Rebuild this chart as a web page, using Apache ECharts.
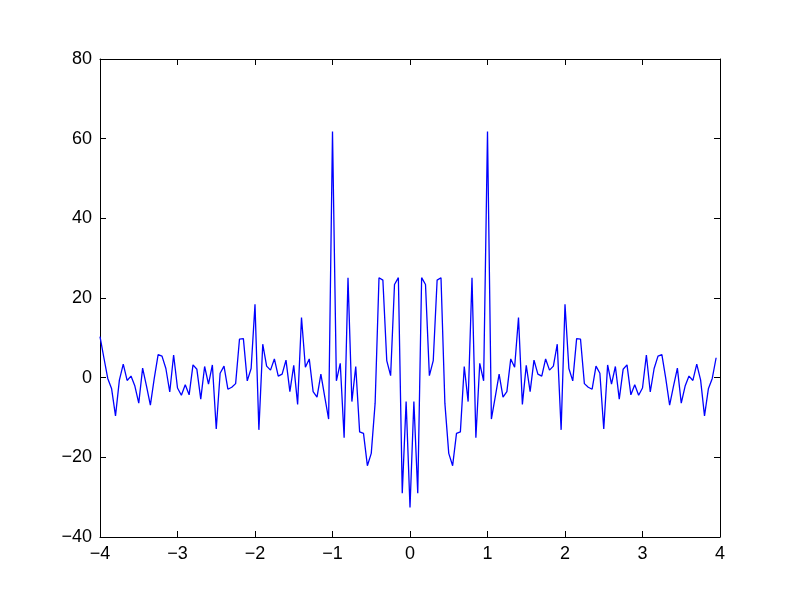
<!DOCTYPE html>
<html>
<head>
<meta charset="utf-8">
<script src="https://cdn.jsdelivr.net/npm/echarts@6/dist/echarts.min.js"></script>
<style>
  html, body { margin: 0; padding: 0; background: #ffffff; }
  #chart { width: 800px; height: 597px; }
</style>
</head>
<body>
<div id="chart"></div>
<script>
// Sampling grid of the x axis
const xStart = -4;
const xStep = 0.05;

// Series values, x = -4 ... 3.95 (step 0.05)
const yValues = [
  10.3, 5.0, -0.2, -2.8, -9.6, -0.6, 3.4, -0.7, 0.4, -2.1,
  -6.4, 2.4, -2.1, -6.9, -0.2, 5.8, 5.4, 2.3, -3.6, 5.7,
  -2.6, -4.4, -1.8, -4.3, 3.2, 2.1, -5.4, 2.8, -1.6, 3.2,
  -12.9, 1.1, 2.9, -2.9, -2.4, -1.5, 9.7, 9.8, -0.8, 2.3,
  18.4, -13.1, 8.4, 2.9, 1.9, 4.7, 0.4, 0.9, 4.4, -3.5,
  3.1, -6.7, 15.1, 2.6, 4.7, -3.5, -4.9, 0.9, -4.8, -10.4,
  61.8, -0.8, 3.6, -15.1, 25.1, -6.0, 2.8, -13.6, -14.0, -22.1,
  -19.0, -6.4, 25.1, 24.5, 4.3, 0.5, 23.4, 25.1, -29.0, -6.0,
  -32.6, -6.0, -29.0, 25.1, 23.4, 0.5, 4.3, 24.5, 25.1, -6.4,
  -19.0, -22.1, -14.0, -13.6, 2.8, -6.0, 25.1, -15.1, 3.6, -0.8,
  61.8, -10.4, -4.8, 0.9, -4.9, -3.5, 4.7, 2.6, 15.1, -6.7,
  3.1, -3.5, 4.4, 0.9, 0.4, 4.7, 1.9, 2.9, 8.4, -13.1,
  18.4, 2.3, -0.8, 9.8, 9.7, -1.5, -2.4, -2.9, 2.9, 1.1,
  -12.9, 3.2, -1.6, 2.8, -5.4, 2.1, 3.2, -4.3, -1.8, -4.4,
  -2.6, 5.7, -3.6, 2.3, 5.4, 5.8, -0.2, -6.9, -2.1, 2.4,
  -6.4, -2.1, 0.4, -0.7, 3.4, -0.6, -9.6, -2.8, -0.2, 5.0
];

// Axis ranges / ticks
const xTicks = { min: -4, max: 4, interval: 1 };
const yTicks = { min: -40, max: 80, interval: 20 };

const seriesData = yValues.map((y, i) => [+(xStart + i * xStep).toFixed(2), y]);

const fmt = v => String(v).replace('-', '\u2212');
const font = { color: '#000', fontFamily: 'Liberation Sans, Arial, sans-serif', fontSize: 18 };

const axisLine = { show: true, onZero: false, lineStyle: { color: '#000', width: 1 } };
const tick = { show: true, inside: true, length: 6, lineStyle: { color: '#000', width: 1 } };

const chart = echarts.init(document.getElementById('chart'), null, { renderer: 'canvas' });
chart.setOption({
  animation: false,
  backgroundColor: '#ffffff',
  grid: { left: 100, right: 80, top: 59, bottom: 60, containLabel: false },
  xAxis: [
    { type: 'value', position: 'bottom', min: xTicks.min, max: xTicks.max, interval: xTicks.interval,
      axisLine: axisLine, axisTick: tick, splitLine: { show: false },
      axisLabel: Object.assign({ margin: 8, formatter: fmt }, font) },
    { type: 'value', position: 'top', min: xTicks.min, max: xTicks.max, interval: xTicks.interval,
      axisLine: axisLine, axisTick: tick, splitLine: { show: false }, axisLabel: { show: false } }
  ],
  yAxis: [
    { type: 'value', position: 'left', min: yTicks.min, max: yTicks.max, interval: yTicks.interval,
      axisLine: axisLine, axisTick: tick, splitLine: { show: false },
      axisLabel: Object.assign({ margin: 8, formatter: fmt }, font) },
    { type: 'value', position: 'right', min: yTicks.min, max: yTicks.max, interval: yTicks.interval,
      axisLine: axisLine, axisTick: tick, splitLine: { show: false }, axisLabel: { show: false } }
  ],
  series: [{
    type: 'line',
    xAxisIndex: 0,
    yAxisIndex: 0,
    data: seriesData,
    showSymbol: false,
    symbol: 'none',
    lineStyle: { color: '#0000ff', width: 1.3 },
    itemStyle: { color: '#0000ff' }
  }]
});
</script>
</body>
</html>
